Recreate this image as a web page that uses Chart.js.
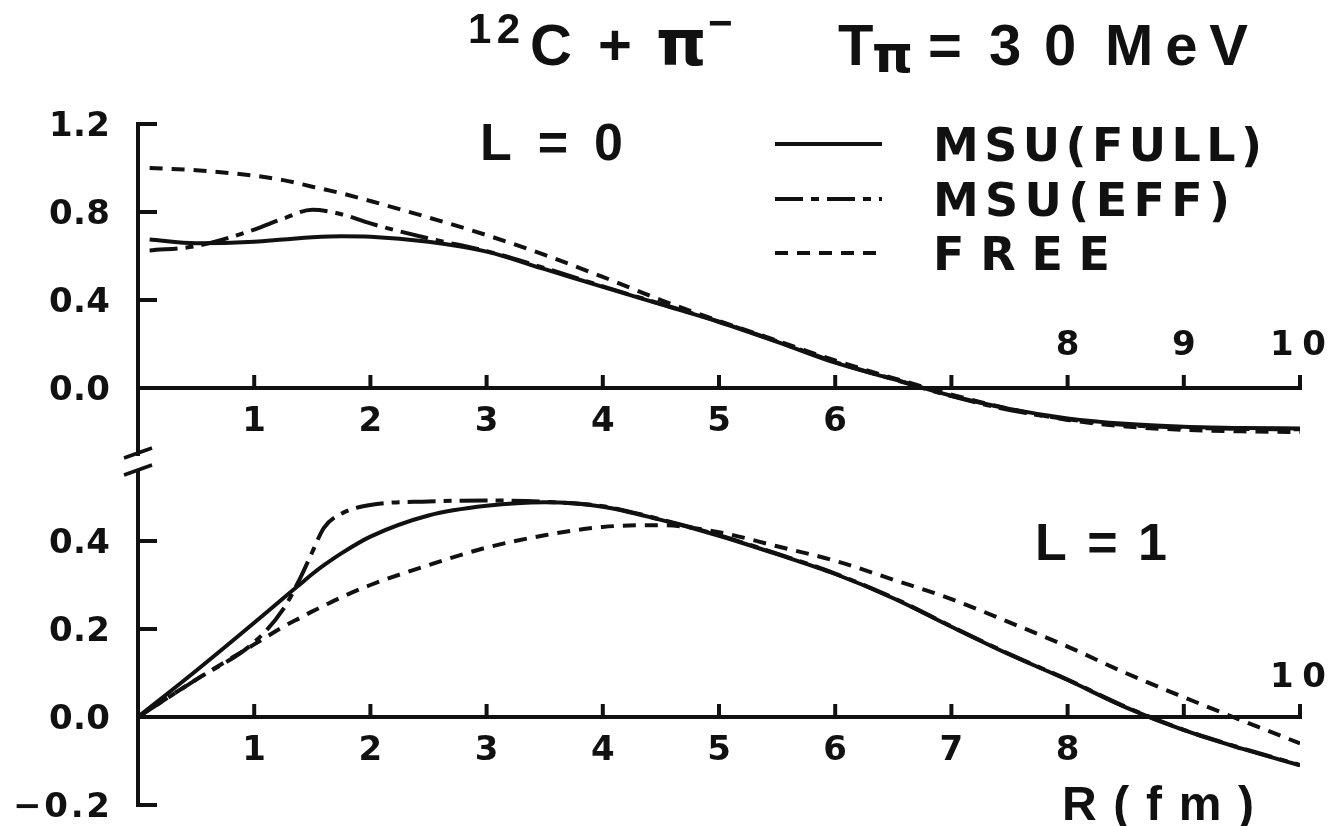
<!DOCTYPE html>
<html>
<head>
<meta charset="utf-8">
<title>12C + pi- wave functions</title>
<script src="https://cdn.jsdelivr.net/npm/chart.js@4/dist/chart.umd.min.js"></script>
<style>
  body { margin: 0; background: #fff; }
  #wrap { position: relative; width: 1328px; height: 826px; overflow: hidden; }
  #wrap canvas { position: absolute; left: 0; }
</style>
</head>
<body>
<div id="wrap">
  <canvas id="panelL0" width="1328" height="490" style="top:0px"></canvas>
  <canvas id="panelL1" width="1328" height="366" style="top:460px"></canvas>
</div>
<script>
// --- L = 0 panel ---
const rL0 = [0.1, 0.5, 1.0, 1.25, 1.5, 1.75, 2.0, 2.5, 3.0, 3.5, 4.0, 4.5, 5.0, 5.5, 6.0, 6.5, 7.0, 7.5, 8.0, 8.5, 9.0, 9.5, 10.0];
const l0Full = [0.675, 0.658, 0.665, 0.675, 0.685, 0.69, 0.688, 0.665, 0.62, 0.54, 0.46, 0.38, 0.30, 0.21, 0.115, 0.04, -0.035, -0.095, -0.138, -0.163, -0.176, -0.182, -0.184];
const l0Eff = [0.625, 0.645, 0.72, 0.77, 0.81, 0.79, 0.748, 0.68, 0.622, 0.545, 0.462, 0.382, 0.302, 0.212, 0.118, 0.04, -0.037, -0.1, -0.142, -0.168, -0.18, -0.186, -0.188];
const l0Free = [1.0, 0.99, 0.965, 0.945, 0.915, 0.885, 0.85, 0.775, 0.695, 0.605, 0.505, 0.40, 0.305, 0.215, 0.125, 0.045, -0.03, -0.095, -0.145, -0.175, -0.19, -0.197, -0.2];
const l0YTicks = [1.2, 0.8, 0.4, 0.0];
const l0YLabels = ['1.2', '0.8', '0.4', '0.0'];
const l0XBelow = [1, 2, 3, 4, 5, 6];
const l0XAbove = [8, 9, 10];

// --- L = 1 panel ---
const rL1 = [0, 0.5, 1.0, 1.25, 1.4, 1.5, 1.6, 1.75, 2.0, 2.5, 3.0, 3.5, 4.0, 4.5, 5.0, 5.5, 6.0, 6.5, 7.0, 7.5, 8.0, 8.5, 9.0, 9.5, 10.0];
const l1Full = [0, 0.105, 0.214, 0.27, 0.303, 0.325, 0.345, 0.372, 0.41, 0.458, 0.48, 0.488, 0.478, 0.448, 0.412, 0.37, 0.325, 0.27, 0.205, 0.142, 0.084, 0.022, -0.03, -0.072, -0.11];
const l1Eff = [0, 0.085, 0.17, 0.245, 0.318, 0.375, 0.43, 0.462, 0.482, 0.49, 0.492, 0.489, 0.479, 0.449, 0.413, 0.371, 0.326, 0.271, 0.206, 0.143, 0.085, 0.023, -0.029, -0.071, -0.109];
const l1Free = [0, 0.085, 0.165, 0.205, 0.226, 0.24, 0.253, 0.272, 0.30, 0.345, 0.385, 0.413, 0.432, 0.436, 0.42, 0.388, 0.355, 0.312, 0.268, 0.215, 0.16, 0.1, 0.045, -0.008, -0.06];
const l1YTicks = [0.4, 0.2, 0.0, -0.2];
const l1YLabels = ['0.4', '0.2', '0.0', '\u22120.2'];
const l1XBelow = [1, 2, 3, 4, 5, 6, 7, 8];
const l1XAbove = [10];

const xTickMarks = [1, 2, 3, 4, 5, 6, 7, 8, 9, 10];
const seriesNames = ['MSU(FULL)', 'MSU(EFF)', 'FREE'];
const seriesDash = [[], [28, 8, 8, 8], [13, 9]];

const INK = '#111';
const SANS = '"Liberation Sans", Arial, sans-serif';
const WIDE = '"DejaVu Sans", sans-serif';

// draws a string char by char, spreading it over a given width
function spacedText(ctx, str, x, y, width, align) {
    const chars = [...str];
    const widths = chars.map(c => ctx.measureText(c).width);
    const natural = widths.reduce((a, b) => a + b, 0);
    const total = width || natural;
    const gap = chars.length > 1 ? (total - natural) / (chars.length - 1) : 0;
    let cx = x;
    if (align === 'right') cx = x - total;
    else if (align === 'center') cx = x - total / 2;
    ctx.textAlign = 'left';
    chars.forEach((c, i) => {
        ctx.fillText(c, cx, y);
        cx += widths[i] + gap;
    });
}

function seg(ctx, x1, y1, x2, y2) {
    ctx.beginPath();
    ctx.moveTo(x1, y1);
    ctx.lineTo(x2, y2);
    ctx.stroke();
}

// axes, ticks and annotation text for one panel
function panelDecor(spec) {
    return {
        id: 'panelDecor',
        afterDatasetsDraw(chart) {
            const { ctx } = chart;
            const xs = chart.scales.x, ys = chart.scales.y;
            const ax = xs.getPixelForValue(0);
            const ay = ys.getPixelForValue(0);
            const off = spec.top;

            ctx.save();
            ctx.strokeStyle = INK;
            ctx.fillStyle = INK;
            ctx.lineWidth = 4;
            ctx.lineCap = 'butt';
            ctx.textBaseline = 'alphabetic';

            // vertical axis
            seg(ctx, ax, ys.getPixelForValue(spec.yAxisTop) - 2, ax, ys.getPixelForValue(spec.yAxisBottom) + 2);
            // horizontal axis at zero
            seg(ctx, ax - 2, ay, xs.getPixelForValue(10) + 2, ay);

            // y ticks point into the plot
            spec.yTicks.forEach(v => {
                if (v === 0) return;
                const py = ys.getPixelForValue(v);
                seg(ctx, ax, py, ax + 19, py);
            });
            // x ticks point up
            xTickMarks.forEach(v => {
                const px = xs.getPixelForValue(v);
                seg(ctx, px, ay, px, ay - 13);
            });

            // tick labels
            ctx.font = 'bold 34px ' + WIDE;
            spec.yTicks.forEach((v, i) => {
                const label = spec.yLabels[i];
                const w = label.length > 3 ? 97 : 61;
                spacedText(ctx, label, ax - 28, ys.getPixelForValue(v) + 12, w, 'right');
            });
            ctx.font = 'bold 34px ' + WIDE;
            spec.xBelow.forEach(v => {
                spacedText(ctx, String(v), xs.getPixelForValue(v), ay + 43, null, 'center');
            });
            spec.xAbove.forEach(v => {
                const s = String(v);
                spacedText(ctx, s, xs.getPixelForValue(v) - (s.length > 1 ? 2 : 0), ay + spec.aboveOffset, s.length > 1 ? 56 : null, 'center');
            });

            // axis break marks
            if (spec.breakMarks) {
                ctx.lineWidth = 3.5;
                spec.breakMarks.forEach(yb => {
                    seg(ctx, ax - 14, yb - off + 5, ax + 14, yb - off - 5);
                });
            }

            // free text
            spec.texts.forEach(t => {
                ctx.font = 'bold ' + t.size + 'px ' + (t.family || SANS);
                spacedText(ctx, t.str, t.x, t.y - off, t.w, 'left');
            });

            // legend
            if (spec.legend) {
                chart.data.datasets.forEach((ds, i) => {
                    const ly = spec.legend.rows[i] - off;
                    ctx.lineWidth = 4;
                    ctx.setLineDash(ds.borderDash || []);
                    seg(ctx, spec.legend.x1, ly, spec.legend.x2, ly);
                    ctx.setLineDash([]);
                    ctx.font = 'bold 46px ' + WIDE;
                    spacedText(ctx, ds.label, spec.legend.textX, ly + 17, spec.legend.widths[i], 'left');
                });
            }
            ctx.restore();
        }
    };
}

function makeChart(id, r, curves, yMin, yMax, padding, spec) {
    const datasets = curves.map((vals, i) => ({
        label: seriesNames[i],
        data: r.map((x, k) => ({ x: x, y: vals[k] })),
        borderColor: INK,
        borderWidth: 4,
        borderDash: seriesDash[i],
        borderCapStyle: 'butt',
        borderJoinStyle: 'round',
        cubicInterpolationMode: 'monotone',
        pointRadius: 0,
        fill: false
    }));
    return new Chart(document.getElementById(id), {
        type: 'line',
        data: { datasets },
        options: {
            responsive: false,
            animation: false,
            events: [],
            layout: { padding },
            scales: {
                x: { type: 'linear', min: 0, max: 10, display: false },
                y: { type: 'linear', min: yMin, max: yMax, display: false }
            },
            plugins: { legend: { display: false }, tooltip: { enabled: false } }
        },
        plugins: [panelDecor(spec)]
    });
}

// upper panel: 220 px per unit, zero line at y = 388
makeChart('panelL0', rL0, [l0Full, l0Eff, l0Free], -0.3, 1.2,
    { left: 138, right: 28, top: 124, bottom: 36 },
    {
        top: 0,
        yAxisTop: 1.2, yAxisBottom: -0.3,
        yTicks: l0YTicks, yLabels: l0YLabels,
        xBelow: l0XBelow, xAbove: l0XAbove, aboveOffset: -33,
        breakMarks: [453, 470],
        texts: [
            { str: '12', x: 468, y: 43, size: 42, w: 52 },
            { str: 'C', x: 530, y: 65, size: 58 },
            { str: '+', x: 598, y: 65, size: 58 },
            { str: '\u03c0', x: 656, y: 65, size: 64, family: WIDE },
            { str: '\u2212', x: 708, y: 37, size: 42 },
            { str: 'T', x: 838, y: 65, size: 58 },
            { str: '\u03c0', x: 872, y: 72, size: 52, family: WIDE },
            { str: '=', x: 928, y: 65, size: 58 },
            { str: '3', x: 989, y: 65, size: 58 },
            { str: '0', x: 1044, y: 65, size: 58 },
            { str: 'MeV', x: 1105, y: 65, size: 58, w: 143 },
            { str: 'L=0', x: 480, y: 160, size: 52, w: 143 }
        ],
        legend: { x1: 775, x2: 882, textX: 933, rows: [144, 199, 253], widths: [329, 297, 177] }
    });

// lower panel: 440 px per unit, zero line at y = 717
makeChart('panelL1', rL1, [l1Full, l1Eff, l1Free], -0.2, 0.55,
    { left: 138, right: 28, top: 15, bottom: 21 },
    {
        top: 460,
        yAxisTop: 0.555, yAxisBottom: -0.2,
        yTicks: l1YTicks, yLabels: l1YLabels,
        xBelow: l1XBelow, xAbove: l1XAbove, aboveOffset: -30,
        breakMarks: null,
        texts: [
            { str: 'L=1', x: 1035, y: 560, size: 52, w: 132 },
            { str: 'R(fm)', x: 1062, y: 820, size: 48, w: 192 }
        ],
        legend: null
    });
</script>
</body>
</html>
